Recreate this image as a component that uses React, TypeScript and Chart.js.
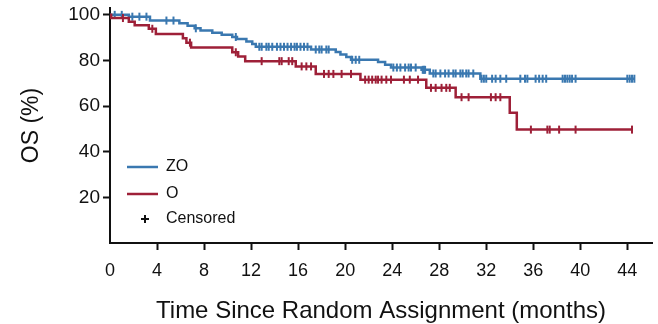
import React, { useEffect, useRef } from "react";
import { Chart, registerables } from "chart.js";

Chart.register(...registerables);

// Axis ticks
const xTicks = [0, 4, 8, 12, 16, 20, 24, 28, 32, 36, 40, 44];
const yTicks = [20, 40, 60, 80, 100];

// ZO arm: event times (months) and survival (%) after each step
const zoTimes = [0, 1.6, 3.4, 5.9, 6.6, 7.2, 7.7, 8.7, 9.5, 10.4, 10.8, 11.6, 12.1, 12.4, 17.1, 19.2, 19.6, 20.1, 20.5, 22.8, 23.4, 23.9, 26.5, 27.2, 31.5];
const zoSurvival = [100, 99.2, 97.5, 96.3, 95.2, 94.1, 93.1, 92.2, 91.3, 90.3, 89.4, 88.3, 87.2, 86.0, 84.8, 83.7, 82.6, 81.5, 80.3, 79.3, 78.1, 76.9, 75.9, 74.3, 72.0];
const zoLastFollowUp = 44.6;
const zoCensored = [0.4, 1.0, 1.9, 2.5, 3.1, 4.8, 5.4, 7.3, 10.7, 12.7, 12.9, 13.3, 13.5, 13.8, 14.2, 14.5, 14.8, 15.1, 15.4, 15.7, 15.9, 16.2, 16.5, 16.8, 17.5, 17.8, 18.0, 18.4, 18.6, 20.6, 20.9, 21.2, 24.1, 24.4, 24.7, 25.1, 25.4, 25.6, 26.0, 26.6, 26.7, 26.8, 27.5, 27.7, 28.1, 28.5, 28.8, 29.2, 29.4, 29.8, 30.0, 30.3, 30.5, 30.9, 31.6, 31.8, 32.0, 32.5, 32.8, 33.2, 33.7, 34.9, 35.3, 35.5, 36.2, 36.5, 36.8, 37.1, 38.5, 38.7, 38.9, 39.1, 39.3, 39.6, 44.0, 44.2, 44.4, 44.6];

// O arm
const oTimes = [0, 0.1, 1.6, 2.1, 3.3, 3.9, 6.2, 6.5, 6.9, 10.4, 10.9, 11.5, 15.8, 17.5, 21.3, 26.9, 29.4, 34.0, 34.6];
const oSurvival = [100, 98.6, 97.0, 95.4, 93.9, 91.6, 89.7, 87.8, 85.7, 83.6, 81.7, 79.7, 77.4, 74.1, 71.6, 68.0, 63.9, 57.1, 49.7];
const oLastFollowUp = 44.4;
const oCensored = [1.1, 3.6, 6.8, 10.7, 12.9, 14.4, 14.6, 15.2, 15.5, 16.3, 16.7, 17.1, 18.2, 18.6, 19.0, 19.7, 20.5, 21.7, 22.0, 22.3, 22.6, 22.8, 23.1, 23.5, 23.9, 25.0, 25.5, 26.2, 27.3, 27.7, 28.2, 28.6, 28.9, 29.9, 30.5, 32.4, 32.8, 33.2, 35.8, 37.2, 37.4, 38.2, 39.6, 44.4];

const BLUE = "rgb(58,120,176)";
const RED = "rgb(158,32,56)";
const FONT = "'Liberation Sans', Arial, Helvetica, sans-serif";

function stepPoints(times: number[], surv: number[], end: number) {
  const pts = times.map((t, i) => ({ x: t, y: surv[i] }));
  pts.push({ x: end, y: surv[surv.length - 1] });
  return pts;
}

function survivalAt(times: number[], surv: number[], t: number) {
  let s = surv[0];
  for (let i = 0; i < times.length; i++) {
    if (times[i] <= t) s = surv[i];
  }
  return s;
}

function censorPoints(times: number[], surv: number[], marks: number[]) {
  return marks.map((t) => ({ x: t, y: survivalAt(times, surv, t) }));
}

// Legend drawn inside the plot area, lower left
const insideLegend = {
  id: "insideLegend",
  afterDraw(chart: any) {
    const ctx = chart.ctx;
    const area = chart.chartArea;
    const x0 = area.left + 17;
    const lineLen = 31;
    const textX = x0 + lineLen + 8;
    const rows = [
      { label: "ZO", color: BLUE, y: 167 },
      { label: "O", color: RED, y: 194 },
    ];
    ctx.save();
    ctx.font = `16px ${FONT}`;
    ctx.textBaseline = "middle";
    ctx.textAlign = "left";
    rows.forEach((r) => {
      ctx.strokeStyle = r.color;
      ctx.lineWidth = 2.5;
      ctx.beginPath();
      ctx.moveTo(x0, r.y);
      ctx.lineTo(x0 + lineLen, r.y);
      ctx.stroke();
      ctx.fillStyle = "#111";
      ctx.fillText(r.label, textX, r.y);
    });
    const cy = 219;
    const cx = x0 + 18;
    ctx.strokeStyle = "#111";
    ctx.lineWidth = 2;
    ctx.beginPath();
    ctx.moveTo(cx - 4, cy);
    ctx.lineTo(cx + 4, cy);
    ctx.moveTo(cx, cy - 4);
    ctx.lineTo(cx, cy + 4);
    ctx.stroke();
    ctx.fillStyle = "#111";
    ctx.fillText("Censored", textX, cy);
    ctx.restore();
  },
};

export default function App() {
  const canvasRef = useRef<HTMLCanvasElement | null>(null);

  useEffect(() => {
    const canvas = canvasRef.current;
    if (!canvas) return;

    const censorStyle = (color: string) => ({
      showLine: false,
      pointStyle: "line" as const,
      rotation: 90,
      pointRadius: 4,
      pointBorderWidth: 2,
      pointBorderColor: color,
      pointBackgroundColor: color,
      borderColor: color,
      pointHoverRadius: 4,
    });

    const chart = new Chart(canvas, {
      type: "line",
      data: {
        datasets: [
          {
            label: "O",
            data: stepPoints(oTimes, oSurvival, oLastFollowUp),
            stepped: "before",
            borderColor: RED,
            borderWidth: 2.5,
            pointRadius: 0,
            fill: false,
          },
          {
            label: "O censored",
            data: censorPoints(oTimes, oSurvival, oCensored),
            ...censorStyle(RED),
          },
          {
            label: "ZO",
            data: stepPoints(zoTimes, zoSurvival, zoLastFollowUp),
            stepped: "before",
            borderColor: BLUE,
            borderWidth: 2.5,
            pointRadius: 0,
            fill: false,
          },
          {
            label: "ZO censored",
            data: censorPoints(zoTimes, zoSurvival, zoCensored),
            ...censorStyle(BLUE),
          },
        ],
      },
      options: {
        responsive: false,
        devicePixelRatio: 1,
        animation: false,
        layout: { padding: { left: 0, top: 8, right: 3, bottom: 0 } },
        plugins: {
          legend: { display: false },
          tooltip: { enabled: false },
        },
        scales: {
          x: {
            type: "linear",
            min: 0,
            max: 46.1,
            afterBuildTicks: (scale: any) => {
              scale.ticks = xTicks.map((v) => ({ value: v }));
            },
            afterFit: (scale: any) => {
              scale.height = 81;
              scale.paddingLeft = 0;
              scale.paddingRight = 0;
            },
            border: { display: true, color: "#111", width: 2 },
            grid: {
              drawOnChartArea: false,
              drawTicks: true,
              tickLength: 7,
              tickWidth: 2,
              tickColor: (c: any) => (c.tick && c.tick.value === 0 ? "rgba(0,0,0,0)" : "#111"),
            },
            ticks: {
              autoSkip: false,
              maxRotation: 0,
              padding: 10,
              color: "#111",
              font: { family: FONT, size: 18 },
              callback: (v: any) => String(v),
            },
            title: {
              display: true,
              text: "Time Since Random Assignment (months)",
              color: "#111",
              font: { family: FONT, size: 24, lineHeight: 1 },
              padding: { top: 0, bottom: 1 },
            },
          },
          y: {
            type: "linear",
            min: 0,
            max: 103,
            afterBuildTicks: (scale: any) => {
              scale.ticks = yTicks.map((v) => ({ value: v }));
            },
            afterFit: (scale: any) => {
              scale.width = 110;
              scale.paddingTop = 0;
              scale.paddingBottom = 0;
            },
            border: { display: true, color: "#111", width: 2 },
            grid: {
              drawOnChartArea: false,
              drawTicks: true,
              tickLength: 7,
              tickWidth: 2,
              tickColor: "#111",
            },
            ticks: {
              padding: 3,
              color: "#111",
              font: { family: FONT, size: 19 },
              callback: (v: any) => String(v),
            },
            title: {
              display: true,
              text: "OS (%)",
              color: "#111",
              font: { family: FONT, size: 23, lineHeight: 1.2 },
              padding: { top: 18, bottom: 0 },
            },
          },
        },
      },
      plugins: [insideLegend],
    });

    return () => chart.destroy();
  }, []);

  return (
    <div style={{ position: "fixed", left: 0, top: 0, width: 658, height: 324, background: "#fff" }}>
      <canvas ref={canvasRef} width={658} height={324} style={{ width: 658, height: 324, display: "block" }} />
    </div>
  );
}
